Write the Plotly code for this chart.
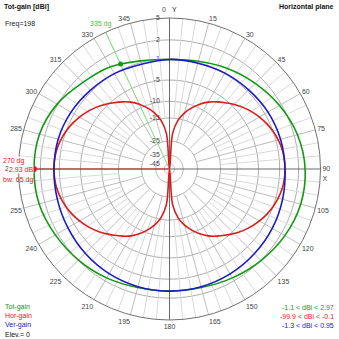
import numpy as np
import plotly.graph_objects as go

# ---------------- data ----------------
freq_label = "Freq=198"
elev_label = "Elev.= 0"

# Tot-gain (green), dBi
tot_angles = [0, 15, 30, 45, 60, 75, 90, 105, 120, 135, 150, 165, 180,
              195, 210, 225, 240, 255, 270, 285, 300, 315, 330, 345, 360]
tot_gain = [-1.1, -0.75, 0.0, 0.8, 1.7, 2.5, 2.95, 2.97, 2.6, 2.05, 1.5, 1.05, 0.95,
            1.05, 1.5, 1.95, 2.4, 2.85, 2.93, 2.8, 2.1, 1.0, 0.3, -0.7, -1.1]

# Ver-gain (blue), dBi
ver_angles = tot_angles
ver_gain = [-1.1, -1.1, -0.9, -0.7, -0.4, -0.2, -0.1, 0.15, 0.4, 0.6, 0.8, 0.92, 0.95,
            0.9, 0.75, 0.5, 0.2, 0.0, -0.1, -0.15, -0.4, -0.75, -1.0, -1.3, -1.1]

# Hor-gain (red), dBi, every 5 degrees
hor_angles = list(range(0, 365, 5))
hor_gain = [-99.9, -21.0, -15.5, -12.7, -10.7, -9.0, -7.6, -6.5, -5.5, -4.5,
            -3.6, -2.8, -2.1, -1.5, -1.0, -0.6, -0.3, -0.15, -0.1,
            -0.15, -0.3, -0.6, -1.0, -1.5, -2.1, -2.8, -3.6, -4.5,
            -5.5, -6.5, -7.6, -9.0, -10.7, -12.7, -15.5, -21.0, -99.9,
            -21.0, -15.5, -12.7, -10.7, -9.0, -7.6, -6.5, -5.5, -4.5,
            -3.6, -2.8, -2.1, -1.5, -1.0, -0.6, -0.3, -0.15, -0.1,
            -0.15, -0.3, -0.6, -1.0, -1.5, -2.1, -2.8, -3.6, -4.5,
            -5.5, -6.5, -7.6, -9.0, -10.7, -12.7, -15.5, -21.0, -99.9]

# scale rings (dBi) and their labels
ring_db = [5, 2, -1, -5, -10, -15, -25, -35, -45]
ring_labels = ["5", "2", "-1", "-5", "-10", "-15", "-25", "-35", "-45"]

# angular tick labels (0 deg is labelled separately as "0" and "Y")
ang_ticks = list(range(0, 360, 15))
ang_text = ["" if a == 0 else ("\u00a0<br>90<br>X" if a == 90 else str(a)) for a in ang_ticks]

# cursor readouts
cursor_main_deg = 270
cursor_main_gain = 2.93
cursor_bw = 65
cursor_edge_deg = 335
cursor_edge_gain = -0.07

legend_names = ["Tot-gain", "Hor-gain", "Ver-gain"]
legend_ranges = ["-1.1 < dBi < 2.97", "-99.9 < dBi < -0.1", "-1.3 < dBi < 0.95"]

# ---------------- styles ----------------
GREEN = "#129a12"
RED = "#dd1a1a"
BLUE = "#1a1ac8"
FONT = "Liberation Sans"


def rscale(db):
    """MMANA-like logarithmic radial scale, outer ring (5 dBi) = 1."""
    db = np.asarray(db, dtype=float)
    return np.clip((159.5 * np.exp(0.0493 * (db - 5.0)) - 8.5) / 151.0, 0, None)


W = 339.0


def fx(x):
    return x / W


def fy(y):
    return 1 - y / W


fig = go.Figure()

# grid rings
circ = np.arange(0, 361, 2)
for d in ring_db[1:]:
    fig.add_trace(go.Scatterpolar(r=np.full(circ.shape, rscale(d)), theta=circ, mode="lines",
                                  line=dict(color="#ababab", width=1), hoverinfo="skip", showlegend=False))

# minor spokes (5 deg) from -15 ring, major spokes (15 deg) from -25 ring
for a in range(0, 360, 5):
    if a % 90 == 0:
        continue
    r0 = rscale(-25) if a % 15 == 0 else rscale(-15)
    col = "#bdbdbd" if a % 15 == 0 else "#d9d9d9"
    fig.add_trace(go.Scatterpolar(r=[r0, 1], theta=[a, a], mode="lines",
                                  line=dict(color=col, width=1), hoverinfo="skip", showlegend=False))
# main axes
for a in (0, 90, 180, 270):
    fig.add_trace(go.Scatterpolar(r=[0, 1], theta=[a, a], mode="lines",
                                  line=dict(color="#6a6a6a", width=1), hoverinfo="skip", showlegend=False))

# ring labels
fig.add_trace(go.Scatterpolar(r=rscale(ring_db), theta=[0] * len(ring_db), mode="text",
                              text=[s + "\u00a0\u00a0\u00a0\u00a0\u00a0" for s in ring_labels],
                              textposition="middle left",
                              textfont=dict(family=FONT, size=7, color="#444"),
                              hoverinfo="skip", showlegend=False, cliponaxis=False))

# cursor lines
fig.add_trace(go.Scatterpolar(r=[0, 1.05], theta=[cursor_edge_deg, cursor_edge_deg], mode="lines",
                              line=dict(color="#7ee07e", width=1), hoverinfo="skip", showlegend=False,
                              cliponaxis=False))
fig.add_trace(go.Scatterpolar(r=[0, float(rscale(cursor_main_gain))], theta=[cursor_main_deg, cursor_main_deg],
                              mode="lines", line=dict(color=RED, width=1), hoverinfo="skip", showlegend=False))

# pattern curves
fig.add_trace(go.Scatterpolar(r=rscale(hor_gain), theta=hor_angles, mode="lines",
                              line=dict(color=RED, width=1.6, shape="spline", smoothing=1),
                              hoverinfo="skip", showlegend=False))
fig.add_trace(go.Scatterpolar(r=rscale(tot_gain), theta=tot_angles, mode="lines",
                              line=dict(color=GREEN, width=1.6, shape="spline", smoothing=1),
                              hoverinfo="skip", showlegend=False))
fig.add_trace(go.Scatterpolar(r=rscale(ver_gain), theta=ver_angles, mode="lines",
                              line=dict(color=BLUE, width=1.6, shape="spline", smoothing=1),
                              hoverinfo="skip", showlegend=False))

# cursor dots
fig.add_trace(go.Scatterpolar(r=rscale([cursor_edge_gain]), theta=[cursor_edge_deg], mode="markers",
                              marker=dict(color=GREEN, size=5), hoverinfo="skip", showlegend=False))
fig.add_trace(go.Scatterpolar(r=rscale([cursor_main_gain]), theta=[cursor_main_deg], mode="markers",
                              marker=dict(color=RED, size=6), hoverinfo="skip", showlegend=False))

fig.update_layout(
    width=339, height=339,
    margin=dict(l=0, r=0, t=0, b=0),
    paper_bgcolor="white", plot_bgcolor="white",
    font=dict(family=FONT, size=7, color="#333"),
    polar=dict(
        domain=dict(x=[fx(18), fx(321)], y=[fy(320), fy(18)]),
        bgcolor="white",
        radialaxis=dict(range=[0, 1], visible=False),
        angularaxis=dict(rotation=90, direction="clockwise", showgrid=False,
                         showline=True, linecolor="#707070", linewidth=1,
                         ticks="", tickvals=ang_ticks, ticktext=ang_text,
                         tickfont=dict(family=FONT, size=7, color="#444")),
    ),
)

ann = []


def txt(x, y, s, color="#222", bold=False, anchor="left", size=7, bg=None):
    a = dict(x=fx(x), y=fy(y), xref="paper", yref="paper", text=("<b>%s</b>" % s) if bold else s,
             showarrow=False, xanchor=anchor, yanchor="middle", borderpad=0,
             font=dict(family=FONT, size=size, color=color))
    if bg:
        a["bgcolor"] = bg
    ann.append(a)


txt(3, 7, "Tot-gain [dBi]", color="#111", bold=True)
txt(335, 7, "Horizontal plane", color="#111", bold=True, anchor="right")
txt(164, 10, "0", color="#444", anchor="center")
txt(175, 9, "Y", color="#222", anchor="center")
txt(4, 24, freq_label)
txt(101, 24, "%d dg" % cursor_edge_deg, color="#3bc83b", anchor="center")
txt(14, 161, "%d dg" % cursor_main_deg, color=RED, anchor="center", bg="white")
txt(21, 169.5, "%.2f dB" % cursor_main_gain, color=RED, anchor="center", bg="white")
txt(18, 180, "bw: %d dg" % cursor_bw, color=RED, anchor="center")

cols = [GREEN, RED, BLUE]
for i, (n, rg, c) in enumerate(zip(legend_names, legend_ranges, cols)):
    txt(4, 307 + 9.2 * i, n, color=c)
    txt(335, 307 + 9.2 * i, rg, color=c, anchor="right")
txt(4, 334.5, elev_label, color="#111")

fig.update_layout(annotations=ann)
fig.write_html("out.html")
